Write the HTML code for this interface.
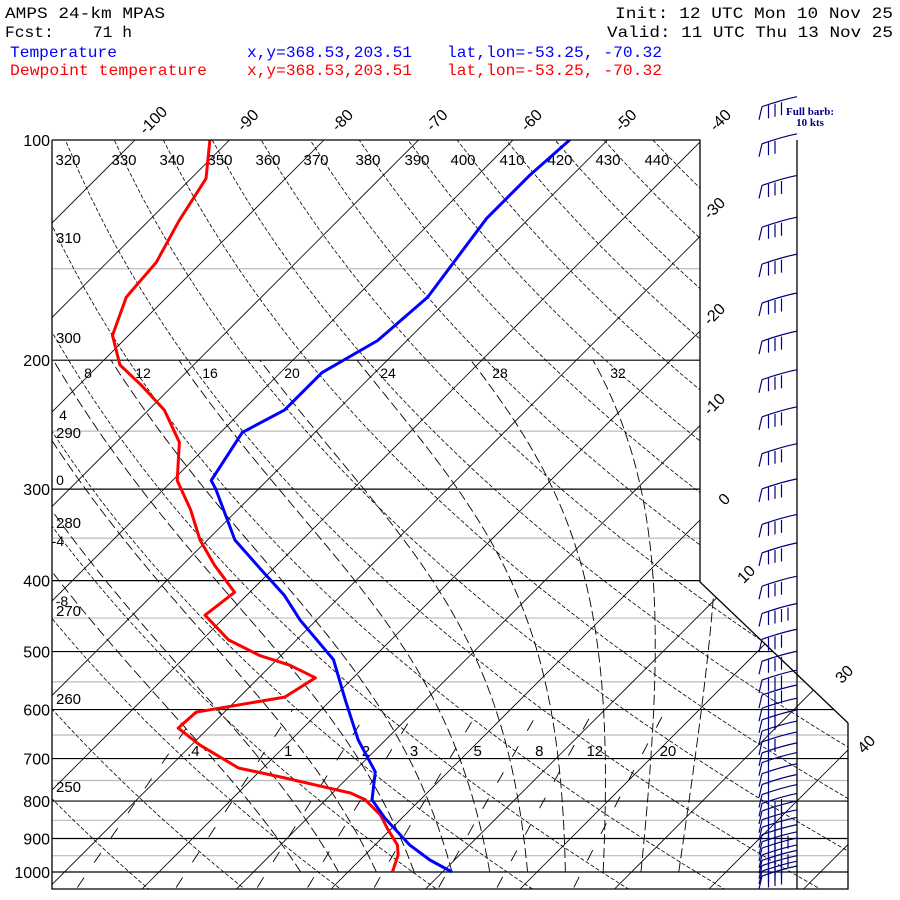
<!DOCTYPE html>
<html><head><meta charset="utf-8"><style>
html,body{margin:0;padding:0;background:#fff;}
svg{display:block;}
#hdr text{font-family:"Liberation Mono",monospace;}
#labels text{font-family:"Liberation Sans",sans-serif;}
</style></head><body>
<svg id="chart" width="900" height="900" viewBox="0 0 900 900" xmlns="http://www.w3.org/2000/svg">
<defs><clipPath id="plotclip"><polygon points="52,140 700,140 700,582 848,723 848,889 52,889"/></clipPath></defs>
<g id="hdr" font-size="16">
<text x="5" y="18" textLength="160" lengthAdjust="spacingAndGlyphs">AMPS 24-km MPAS</text>
<text x="5" y="37" xml:space="preserve" textLength="127" lengthAdjust="spacingAndGlyphs">Fcst:    71 h</text>
<text x="615" y="18" xml:space="preserve" textLength="278" lengthAdjust="spacingAndGlyphs">Init: 12 UTC Mon 10 Nov 25</text>
<text x="607" y="37" xml:space="preserve" textLength="286" lengthAdjust="spacingAndGlyphs">Valid: 11 UTC Thu 13 Nov 25</text>
<text x="10" y="57" fill="#0000ff" textLength="107" lengthAdjust="spacingAndGlyphs">Temperature</text>
<text x="10" y="75" fill="#ff0000" textLength="197" lengthAdjust="spacingAndGlyphs">Dewpoint temperature</text>
<text x="247" y="57" fill="#0000ff" textLength="165" lengthAdjust="spacingAndGlyphs">x,y=368.53,203.51</text>
<text x="447" y="57" fill="#0000ff" xml:space="preserve" textLength="215" lengthAdjust="spacingAndGlyphs">lat,lon=-53.25, -70.32</text>
<text x="247" y="75" fill="#ff0000" textLength="165" lengthAdjust="spacingAndGlyphs">x,y=368.53,203.51</text>
<text x="447" y="75" fill="#ff0000" xml:space="preserve" textLength="215" lengthAdjust="spacingAndGlyphs">lat,lon=-53.25, -70.32</text>
</g>
<g id="grid" clip-path="url(#plotclip)"></g>
<g id="labels"></g>
<g id="series" clip-path="url(#plotclip)"></g>
<polyline points="52,140 700,140 700,582 848,723 848,889 52,889 52,140" fill="none" stroke="#000" stroke-width="1.3"/>
<line x1="797" y1="140" x2="797" y2="889" stroke="#000" stroke-width="1.3"/>
<g id="barbs"></g>
<text x="810" y="115" font-family="Liberation Serif, serif" font-weight="bold" font-size="11" fill="#000080" text-anchor="middle">Full barb:</text>
<text x="810" y="126" font-family="Liberation Serif, serif" font-weight="bold" font-size="11" fill="#000080" text-anchor="middle">10 kts</text>
</svg>
<script>
const pressureLevels=[100,200,300,400,500,600,700,800,900,1000];
const grayLevels=[150,250,350,450,550,650,750,850,950];
const isotherms=[-140,-130,-120,-110,-100,-90,-80,-70,-60,-50,-40,-30,-20,-10,0,10,20,30,40,50];
const dryThetas=[240,250,260,270,280,290,300,310,320,330,340,350,360,370,380,390,400,410,420,430,440,450];
const moistThetaW=[-8,-4,0,4,8,12,16,20,24,28,32];
const mixingRatios=[0.4,1,2,3,5,8,12,20];
const tempP=[100,112,128,164,188,208,234,251,292,300,352,387,419,453,513,582,660,730,797,844,919,963,1000];
const tempT=[-54.0,-54.5,-54.5,-52.4,-53.1,-55.6,-55.6,-57.7,-55.9,-54.5,-47.1,-41.1,-36.0,-31.7,-24.0,-18.5,-12.9,-7.7,-5.1,-1.8,3.7,7.4,11.0];
const dewP=[100,113,129,147,164,185,203,216,234,259,292,320,352,381,415,446,482,506,522,543,577,605,636,671,721,744,766,780,797,836,876,919,948,1000];
const dewT=[-92.1,-88.4,-86.8,-84.8,-84.3,-81.7,-77.8,-73.5,-68.3,-63.3,-59.5,-55.0,-50.8,-46.6,-41.6,-42.3,-37.2,-32.3,-28.0,-24.0,-25.2,-33.0,-33.2,-29.1,-22.6,-16.6,-11.4,-8.1,-5.8,-2.6,-0.2,2.4,3.5,4.7];
const barbP=[89,100,114,130,146,165,186,210,236,265,296,331,362,402,438,475,509,540,566,590,612,634,656,679,700,725,750,774,796,815,838,858,878,898,916,936,952,968,985,1000];
const barbKts=[35,30,35,35,35,35,40,35,40,40,40,40,40,40,45,40,40,40,40,30,30,20,25,20,20,20,15,15,40,40,40,40,40,45,40,40,45,40,40,35];

const NS='http://www.w3.org/2000/svg';
const Y=p=>872+318*Math.log(p/1000);
const X=(T,p)=>348+9.45*T+(872-Y(p));
function mk(parent,tag,attrs){const e=document.createElementNS(NS,tag);for(const k in attrs)e.setAttribute(k,attrs[k]);parent.appendChild(e);return e;}
const grid=document.getElementById('grid'),labels=document.getElementById('labels'),series=document.getElementById('series'),barbs=document.getElementById('barbs');
function rightEdge(y){if(y<=582)return 700;if(y>=723)return 848;return 700+(y-582)*148/141;}
grayLevels.forEach(p=>{const y=Y(p);const l=mk(grid,'line',{x1:52,x2:rightEdge(y),y1:y,y2:y,stroke:'#bbb','stroke-width':1.2});

});
pressureLevels.forEach(p=>{const y=Y(p);const l=mk(grid,'line',{x1:52,x2:rightEdge(y),y1:y,y2:y,stroke:'#000','stroke-width':1.2});


const t=mk(labels,'text',{x:50,y:y+6,'text-anchor':'end','font-size':16});t.textContent=p;

});
isotherms.forEach(T=>{const l=mk(grid,'line',{x1:X(T,1100),y1:Y(1100),x2:X(T,90),y2:Y(90),stroke:'#000','stroke-width':0.8});

});
function rlab(x,y,s,name){const t=mk(labels,'text',{x:x,y:y,'text-anchor':'middle','font-size':16,transform:`rotate(-45 ${x} ${y})`});t.textContent=s;

}
[-100,-90,-80,-70,-60,-50,-40].forEach(T=>rlab(1100+9.45*T+2,124,T,'isotherm-label-'+T));
const rightLab=[[-30,718,212],[-20,718,318],[-10,718,408],[0,728,503],[10,750,578],[30,848,678],[40,870,748]];
rightLab.forEach(a=>rlab(a[1],a[2],a[0],'isotherm-label-'+a[0]));
dryThetas.forEach(th=>{let pts=[];for(let p=1100;p>=90;p-=10){pts.push(X(th*Math.pow(p/1000,0.2857)-273.15,p).toFixed(1)+','+Y(p).toFixed(1));}
const l=mk(grid,'polyline',{points:pts.join(' '),fill:'none',stroke:'#000','stroke-width':0.8,'stroke-dasharray':'4,2'});

});
[[320,68],[330,124],[340,172],[350,220],[360,268],[370,316],[380,368],[390,417],[400,463],[410,512],[420,560],[430,608],[440,657]].forEach(a=>{const t=mk(labels,'text',{x:a[1],y:165,'text-anchor':'middle','font-size':15});t.textContent=a[0];

});
[[310,243],[300,343],[290,438],[280,528],[270,616],[260,704],[250,792]].forEach(a=>{const t=mk(labels,'text',{x:56,y:a[1],'font-size':15});t.textContent=a[0];

});
function es(T){return 6.112*Math.exp(17.67*T/(T+243.5));}
moistThetaW.forEach(tw=>{let T=tw+3+273.15,pts=[];for(let p=1000;p>=200;p-=2){const e=es(T-273.15),rs=0.622*e/(p-e);
const b=(287*T+2.5e6*rs)/(1005+2.5e6*2.5e6*rs*0.622/(287*T*T));
pts.push(X(T-273.15,p).toFixed(1)+','+Y(p).toFixed(1));T-=b/p*2;}
const l=mk(grid,'polyline',{points:pts.join(' '),fill:'none',stroke:'#000','stroke-width':0.9,'stroke-dasharray':'10,4'});

});
[[8,88,378],[12,143,378],[16,210,378],[20,292,378],[24,388,378],[28,500,378],[32,618,378],[4,63,420],[0,60,485],[-4,58,546],[-8,62,606]].forEach(a=>{const t=mk(labels,'text',{x:a[1],y:a[2],'text-anchor':'middle','font-size':14});t.textContent=a[0];

});
mixingRatios.forEach(w=>{let pts=[];for(let p=1050;p>=600;p-=10){const e=w*p/(622+w),L=Math.log(e/6.112),T=243.5*L/(17.67-L);pts.push(X(T,p).toFixed(1)+','+Y(p).toFixed(1));}
const l=mk(grid,'polyline',{points:pts.join(' '),fill:'none',stroke:'#000','stroke-width':0.9,'stroke-dasharray':'12,18'});


const e=w*700/(622+w),L=Math.log(e/6.112),T=243.5*L/(17.67-L);
const t=mk(labels,'text',{x:X(T,700)+28,y:756,'text-anchor':'middle','font-size':15});t.textContent=(w<1?'.4':w);

});
function line(P,T,color,name){const pts=P.map((p,i)=>X(T[i],p).toFixed(1)+','+Y(p).toFixed(1));
const l=mk(series,'polyline',{points:pts.join(' '),fill:'none',stroke:color,'stroke-width':3,'stroke-linejoin':'round'});

}
line(dewP,dewT,'#ff0000','dewpoint-line');
line(tempP,tempT,'#0000ff','temperature-line');
barbP.forEach((p,i)=>{const y=Y(p),g=mk(barbs,'g',{stroke:'#000080','stroke-width':1.2,fill:'none'});


const x0=797,y0=y-6,x1=762,y1=y+4;
let d=`M${x0},${y0} Q${x0-15},${y0+3} ${x1},${y1}`;
const n=Math.round(barbKts[i]/10);
for(let k=0;k<n;k++){const fx=x1+k*6.5,fy=y1-k*1.5;d+=` M${fx},${fy} L${fx-(k==0?3:0)},${fy+13}`;}
mk(g,'path',{d:d});});
</script>
</body></html>
